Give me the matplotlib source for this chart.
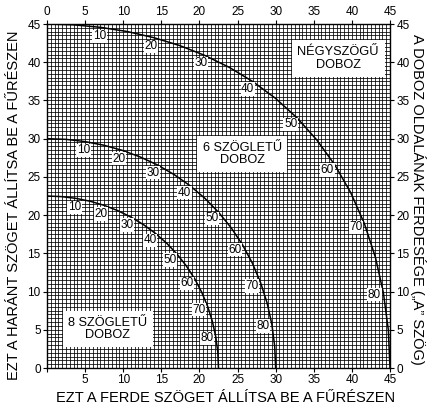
import matplotlib
matplotlib.use("Agg")
import matplotlib.pyplot as plt
import numpy as np

plt.rcParams["font.family"] = ["Liberation Sans", "DejaVu Sans"]

# side tilt angle (the "A" angle) at which each curve point is read
tilt = [0, 5, 10, 15, 20, 25, 30, 35, 40, 45, 50, 55, 60, 65, 70, 75, 80, 85, 90]

# square box: bevel (x) and miter (y)
sq_bevel = [0, 3.53, 7.05, 10.55, 13.99, 17.39, 20.70, 23.93, 27.03, 30.00,
            32.80, 35.39, 37.76, 39.86, 41.64, 43.08, 44.13, 44.78, 45.0]
sq_miter = [45.0, 44.89, 44.56, 44.01, 43.22, 42.19, 40.89, 39.32, 37.45, 35.26,
            32.73, 29.84, 26.57, 22.91, 18.88, 14.51, 9.85, 4.98, 0]

# 6 sided box
hex_bevel = [0, 2.50, 4.98, 7.43, 9.85, 12.20, 14.48, 16.67, 18.75, 20.70,
             22.52, 24.18, 25.66, 26.95, 28.02, 28.88, 29.50, 29.87, 30.0]
hex_miter = [30.0, 29.91, 29.62, 29.15, 28.48, 27.62, 26.57, 25.31, 23.86, 22.21,
             20.36, 18.32, 16.10, 13.71, 11.17, 8.50, 5.72, 2.88, 0]

# 8 sided box
oct_bevel = [0, 1.91, 3.81, 5.68, 7.52, 9.31, 11.03, 12.68, 14.24, 15.70,
             17.05, 18.27, 19.36, 20.29, 21.08, 21.69, 22.14, 22.41, 22.5]
oct_miter = [22.5, 22.42, 22.19, 21.81, 21.27, 20.58, 19.73, 18.74, 17.60, 16.33,
             14.91, 13.37, 11.70, 9.93, 8.06, 6.12, 4.11, 2.07, 0]

curve_labels = [10, 20, 30, 40, 50, 60, 70, 80]

boxes = [
    ("NÉGYSZÖGŰ\nDOBOZ", 38.2, 40.5),
    ("6 SZÖGLETŰ\nDOBOZ", 25.6, 28.0),
    ("8 SZÖGLETŰ\nDOBOZ", 8.0, 5.1),
]

fig = plt.figure(figsize=(4.33, 4.11), dpi=100)
ax = fig.add_axes([0.1085, 0.1046, 0.7922, 0.837])

ax.set_xlim(0, 45)
ax.set_ylim(0, 45)
ax.set_xticks(np.arange(0, 46, 5))
ax.set_yticks(np.arange(0, 46, 5))
ax.set_xticks(np.arange(0, 45.01, 0.5), minor=True)
ax.set_yticks(np.arange(0, 45.01, 0.5), minor=True)
ax.grid(which="both", color="black", linewidth=0.55)
ax.set_axisbelow(True)
ax.tick_params(which="major", direction="out", length=3, width=0.8,
               top=True, right=True, labeltop=True, labelright=True,
               labelsize=8.5, pad=1.5)
ax.tick_params(which="minor", length=0)
ax.xaxis.get_major_ticks()[0].label1.set_visible(False)
for s in ax.spines.values():
    s.set_linewidth(1.0)

for bx, my in [(sq_bevel, sq_miter), (hex_bevel, hex_miter), (oct_bevel, oct_miter)]:
    ax.plot(bx, my, color="black", lw=1.1, zorder=3)
    for a in curve_labels:
        i = tilt.index(a)
        x, y = bx[i], my[i]
        r = np.hypot(x, y)
        ax.annotate(str(a), (x, y), xytext=(-6.5 * x / r, -6.5 * y / r),
                    textcoords="offset points", ha="center", va="center",
                    fontsize=8.5, zorder=4,
                    bbox=dict(boxstyle="square,pad=0.05", fc="white", ec="none"))

for txt, x, y in boxes:
    ax.text(x, y, txt, ha="center", va="center", fontsize=9.2, linespacing=1.1,
            zorder=5, bbox=dict(boxstyle="square,pad=0.45", fc="white", ec="none"))

fig.text(0.52, 0.032, "EZT A FERDE SZÖGET ÁLLÍTSA BE A FŰRÉSZEN",
         ha="center", va="center", fontsize=10.5)
fig.text(0.033, 0.5, "EZT A HARÁNT SZÖGET ÁLLÍTSA BE A FŰRÉSZEN",
         ha="center", va="center", rotation=90, fontsize=10.5)
fig.text(0.965, 0.515, "A DOBOZ OLDALÁNAK FERDESÉGE („A” SZÖG)",
         ha="center", va="center", rotation=-90, fontsize=10.5)

fig.savefig("out.png", dpi=100)
